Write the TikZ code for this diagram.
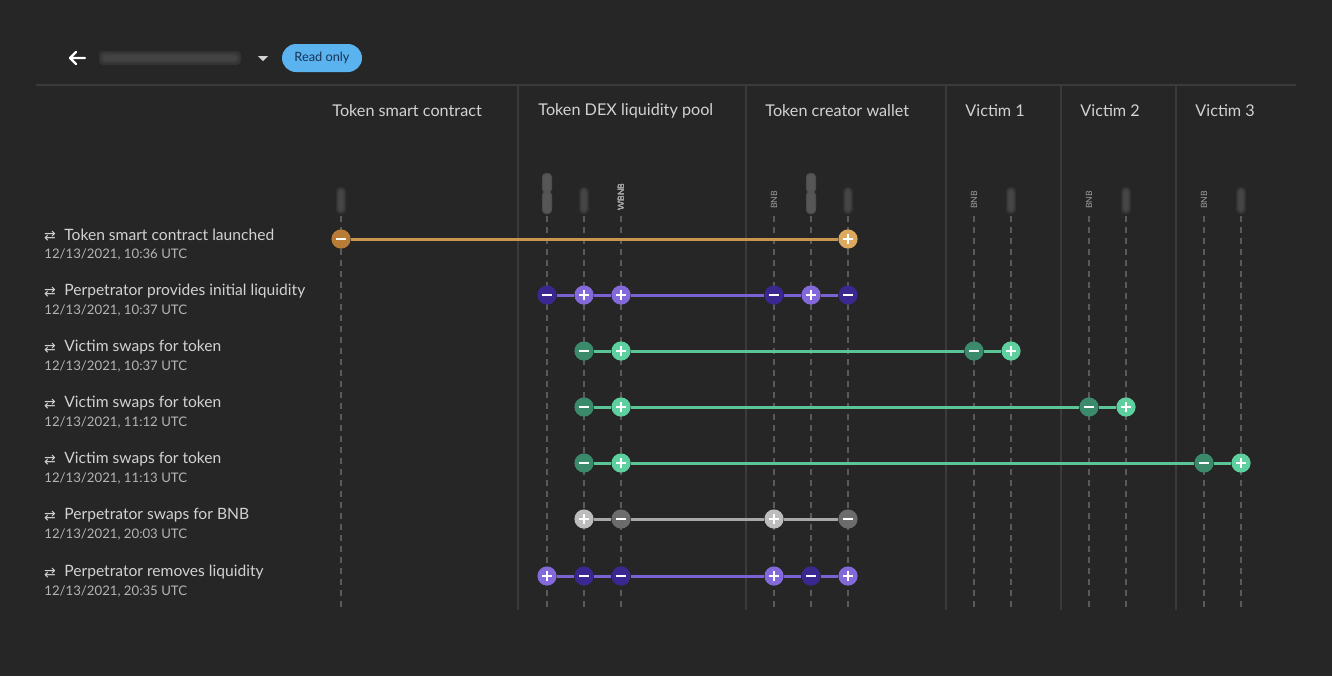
\documentclass[tikz,border=0pt]{standalone}
\usepackage{fontspec}
\setmainfont{Lato}
\newfontfamily\symfont{DejaVu Sans}
\usetikzlibrary{positioning}
\definecolor{canvas}{HTML}{262626}
\definecolor{rule}{HTML}{3A3A3A}
\definecolor{guide}{HTML}{5A5A5A}
\definecolor{headtext}{HTML}{D2D2D2}
\definecolor{datetext}{HTML}{B4B4B4}
\definecolor{pillblue}{HTML}{5AB2EE}
\definecolor{pilltext}{HTML}{163556}
\definecolor{orangeline}{HTML}{C8964F}
\definecolor{orangeneg}{HTML}{B87C36}
\definecolor{orangepos}{HTML}{DDA95E}
\definecolor{purpleline}{HTML}{7B62D2}
\definecolor{purpleneg}{HTML}{3A2790}
\definecolor{purplepos}{HTML}{8469DB}
\definecolor{greenline}{HTML}{5CC597}
\definecolor{greenneg}{HTML}{3B8A6B}
\definecolor{greenpos}{HTML}{5ED0A0}
\definecolor{greyline}{HTML}{A8A8A8}
\definecolor{greyneg}{HTML}{6C6C6C}
\definecolor{greypos}{HTML}{BDBDBD}
\tikzset{
    colhead/.style={anchor=west, inner sep=0pt, text=headtext, font=\fontsize{8.1}{9}\selectfont},
    rowtitle/.style={anchor=west, inner sep=0pt, text=headtext, font=\fontsize{7.8}{9}\selectfont},
    rowdate/.style={anchor=west, inner sep=0pt, text=datetext, font=\fontsize{6.6}{8}\selectfont},
    swapicon/.style={inner sep=0pt, text=headtext, font=\symfont\fontsize{7}{8}\selectfont},
    asset/.style={rotate=90, inner sep=0pt, text=datetext!85!canvas, font=\fontsize{4.3}{5}\selectfont},
    blurtag/.style={fill=guide, rounded corners=2pt, opacity=#1},
    pill/.style={rectangle, rounded corners=7pt, fill=pillblue, text=pilltext, minimum width=40pt, minimum height=14pt, inner sep=0pt, font=\fontsize{6.4}{8}\selectfont},
    evt/.style={circle, minimum size=9.6pt, inner sep=0pt, fill=#1},
    neg/.style={evt=#1, path picture={\draw[white, line width=1.1pt] ([xshift=-2.4pt]path picture bounding box.center) -- ([xshift=2.4pt]path picture bounding box.center);}},
    pos/.style={evt=#1, path picture={\draw[white, line width=1.1pt] ([xshift=-2.4pt]path picture bounding box.center) -- ([xshift=2.4pt]path picture bounding box.center) ([yshift=-2.4pt]path picture bounding box.center) -- ([yshift=2.4pt]path picture bounding box.center);}},
    flow/.style={line width=1.5pt, draw=#1}
}
\newcommand{\smudge}[3]{% x, top, bottom
    \foreach \w in {5,4,3,2}
        \fill[blurtag=0.22] (#1-\w,#2-\w+2) rectangle (#1+\w,#3+\w-2);
}
\begin{document}
\begin{tikzpicture}[x=0.5pt, y=-0.5pt]
    \useasboundingbox (0,0) rectangle (1332,676);
    \fill[canvas] (0,0) rectangle (1332,676);

    % top bar
    \draw[white, line width=1.1pt, line cap=round, line join=round] (76,52) -- (70,58) -- (76,64) (70,58) -- (85,58);
    \foreach \w in {7,5,3}
        \fill[blurtag=0.25] (106-\w,58-\w) rectangle (234+\w,58+\w);
    \fill[headtext] (258,56) -- (268,56) -- (263,61) -- cycle;
    \node (ro) [pill] at (322,58) {Read only};
    \draw[rule, line width=0.6pt] (36,85) -- (1296,85);

    % columns
    \foreach \x in {518,746,946,1061,1176}
        \draw[rule, line width=0.7pt] (\x,85) -- (\x,610);
    \node (h1) [colhead] at (332,111) {Token smart contract};
    \node (h2) [colhead] at (538,111) {Token DEX liquidity pool};
    \node (h3) [colhead] at (765,111) {Token creator wallet};
    \node (h4) [colhead] at (965,111) {Victim 1};
    \node (h5) [colhead] at (1080,111) {Victim 2};
    \node (h6) [colhead] at (1195,111) {Victim 3};

    % asset lanes
    \foreach \x in {341,547,584,621,774,811,848,974,1011,1089,1126,1204,1241}
        \draw[guide, line width=0.6pt, dash pattern=on 3pt off 2.5pt] (\x,216) -- (\x,610);
    \foreach \x in {341,584,848,1011,1126,1241}
        \smudge{\x}{190}{211}
    \smudge{547}{176}{190}
    \smudge{547}{194}{211}
    \smudge{811}{176}{190}
    \smudge{811}{194}{211}
    \node (a1) [asset] at (621,197) {WBNB};
    \node (a2) [asset] at (774,200) {BNB};
    \node (a3) [asset] at (974,200) {BNB};
    \node (a4) [asset] at (1089,200) {BNB};
    \node (a5) [asset] at (1204,200) {BNB};

    % row labels
    \foreach \y/\t/\d [count=\i] in {239/Token smart contract launched/10:36,
        295/Perpetrator provides initial liquidity/10:37,
        351/Victim swaps for token/10:37,
        407/Victim swaps for token/11:12,
        463/Victim swaps for token/11:13,
        519/Perpetrator swaps for BNB/20:03,
        576/Perpetrator removes liquidity/20:35} {
        \node (t\i) [rowtitle] at (64,\y-4) {\t};
        \node (s\i) [swapicon] at (50,\y-3) {⇄};
        \node (d\i) [rowdate] at (44,\y+16) {12/13/2021, \d{} UTC};
    }

    % row 1
    \node (r1a) [neg=orangeneg] at (341,239) {};
    \node (r1b) [pos=orangepos] at (848,239) {};
    \draw[flow=orangeline] (r1a) -- (r1b);

    % row 2
    \node (r2a) [neg=purpleneg] at (547,295) {};
    \node (r2b) [pos=purplepos] at (584,295) {};
    \node (r2c) [pos=purplepos] at (621,295) {};
    \node (r2d) [neg=purpleneg] at (774,295) {};
    \node (r2e) [pos=purplepos] at (811,295) {};
    \node (r2f) [neg=purpleneg] at (848,295) {};
    \draw[flow=purpleline] (r2a) -- (r2b) -- (r2c) -- (r2d) -- (r2e) -- (r2f);

    % row 3
    \node (r3a) [neg=greenneg] at (584,351) {};
    \node (r3b) [pos=greenpos] at (621,351) {};
    \node (r3c) [neg=greenneg] at (974,351) {};
    \node (r3d) [pos=greenpos] at (1011,351) {};
    \draw[flow=greenline] (r3a) -- (r3b) -- (r3c) -- (r3d);

    % row 4
    \node (r4a) [neg=greenneg] at (584,407) {};
    \node (r4b) [pos=greenpos] at (621,407) {};
    \node (r4c) [neg=greenneg] at (1089,407) {};
    \node (r4d) [pos=greenpos] at (1126,407) {};
    \draw[flow=greenline] (r4a) -- (r4b) -- (r4c) -- (r4d);

    % row 5
    \node (r5a) [neg=greenneg] at (584,463) {};
    \node (r5b) [pos=greenpos] at (621,463) {};
    \node (r5c) [neg=greenneg] at (1204,463) {};
    \node (r5d) [pos=greenpos] at (1241,463) {};
    \draw[flow=greenline] (r5a) -- (r5b) -- (r5c) -- (r5d);

    % row 6
    \node (r6a) [pos=greypos] at (584,519) {};
    \node (r6b) [neg=greyneg] at (621,519) {};
    \node (r6c) [pos=greypos] at (774,519) {};
    \node (r6d) [neg=greyneg] at (848,519) {};
    \draw[flow=greyline] (r6a) -- (r6b) -- (r6c) -- (r6d);

    % row 7
    \node (r7a) [pos=purplepos] at (547,576) {};
    \node (r7b) [neg=purpleneg] at (584,576) {};
    \node (r7c) [neg=purpleneg] at (621,576) {};
    \node (r7d) [pos=purplepos] at (774,576) {};
    \node (r7e) [neg=purpleneg] at (811,576) {};
    \node (r7f) [pos=purplepos] at (848,576) {};
    \draw[flow=purpleline] (r7a) -- (r7b) -- (r7c) -- (r7d) -- (r7e) -- (r7f);
\end{tikzpicture}
\end{document}
